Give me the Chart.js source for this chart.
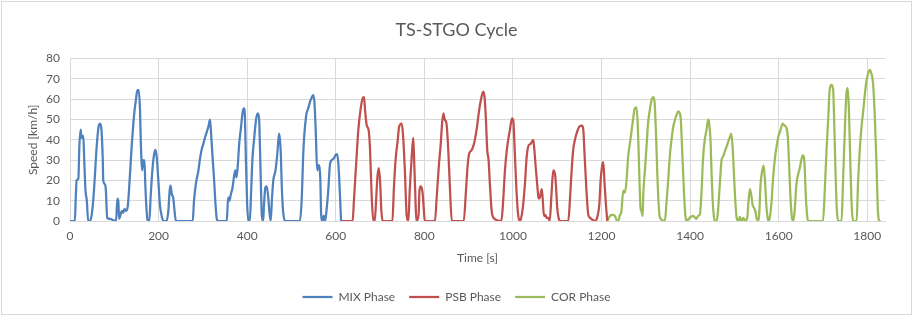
<!DOCTYPE html>
<html lang="en">

<head>
  <meta charset="UTF-8" />
  <title>TS-STGO Cycle</title>
  <script src="https://cdn.jsdelivr.net/npm/chart.js@4.4.0/dist/chart.umd.min.js"></script>
  <style>
    body {
      margin: 0;
      background: #ffffff;
    }

    .chart-container {
      position: relative;
      width: 913px;
      height: 316px;
    }
  </style>
</head>

<body>
  <div class="chart-container">
    <canvas id="cycle"></canvas>
  </div>
  <script>
    // speed trace, time [s] / speed [km/h]
    const mixTime = [
      0, 11, 13, 15, 19, 21, 24, 26, 30, 32, 35, 38, 41, 45,
      49, 53, 56, 60, 65, 68, 71, 74, 75, 79, 81, 84, 90,
      104, 107, 109, 111, 114, 117, 120, 123, 126, 130,
      135, 139, 143, 146, 149, 152, 155, 158, 160, 163, 165, 166, 168, 170, 173, 175, 179,
      182, 186, 190, 193, 196, 199, 203, 207, 211, 218,
      222, 225, 227, 230, 233, 236, 239, 277,
      280, 284, 290, 293, 297, 301, 306, 309, 313, 316, 318, 320, 322, 325, 328, 331, 334,
      354, 357, 360, 363, 367, 370, 373, 376, 379, 382, 386, 390, 393, 395, 397, 400, 403, 406,
      409, 412, 416, 420, 424, 427, 429, 431, 433, 436,
      438, 441, 444, 447, 450, 453,
      456, 459, 464, 468, 472, 474, 476, 478, 481, 486, 519,
      523, 527, 533, 538, 542, 546, 549, 552, 555, 558, 561, 565, 567, 570,
      573, 576, 579, 583, 587, 591, 596, 600, 603, 606, 609, 612
    ];
    const mixSpeed = [
      0, 0, 11.6, 20, 21, 36, 45, 41, 42, 31, 15, 10, 0, 0,
      3, 11.6, 21.5, 36, 47, 48, 45, 30, 20, 18, 15, 1.6, 1,
      0, 11, 10, 1, 3, 5, 4, 6, 5, 6.6,
      21.5, 36, 48, 55, 60, 64.5, 64.5, 55, 38, 25, 30, 26.5, 30, 18, 5, 0, 0,
      11.6, 25, 33, 35, 31, 21.5, 8, 2.5, 0, 0,
      5, 15, 17.4, 13, 11.6, 5, 0, 0,
      10, 18, 25, 30, 35, 38, 42, 44, 47, 50, 45, 38, 31, 21.5, 10, 1.6, 0,
      0, 11.6, 10, 13, 16.5, 21.5, 25, 21.5, 28, 38, 46, 54, 55.5, 51, 31, 8, 0, 0,
      15, 31, 41, 50, 53, 50, 35, 18, 3, 0,
      8, 16.5, 17, 13, 5, 0,
      11, 20, 25, 33, 43, 40, 33, 18, 5, 0, 0,
      10, 35, 51.6, 55.6, 58.8, 61, 62, 58, 43, 25, 27.5, 21.5, 3.3, 0,
      2.5, 0, 5, 15, 28, 30, 31, 32.6, 33, 28, 15, 0
    ];

    const psbTime = [
      612, 638, 641, 646, 651, 656, 661, 664, 666, 670, 674, 677, 679, 682, 685, 688,
      691, 694, 697, 700, 703, 706, 728,
      731, 735, 740, 743, 749, 752, 756, 760,
      764, 767, 771, 775, 777, 780, 782,
      787, 789, 792, 796, 799, 801, 824,
      828, 833, 837, 840, 843, 846, 850, 854, 858, 862, 889,
      894, 898, 901, 907, 912, 918, 924, 928, 933, 936, 939, 942, 945, 948, 952, 956, 974,
      978, 982, 987, 993, 998, 1001, 1004, 1008, 1012, 1016,
      1020, 1023, 1027, 1031, 1035, 1040, 1046, 1048, 1052, 1056, 1058, 1061, 1065, 1067, 1070, 1073, 1076, 1080, 1083,
      1087, 1091, 1095, 1097, 1100, 1103, 1106, 1125,
      1129, 1132, 1136, 1140, 1145, 1151, 1156, 1159, 1162, 1166, 1170, 1174, 1186, 1190,
      1195, 1198, 1202, 1204, 1207, 1210, 1213
    ];
    const psbSpeed = [
      0, 0, 10, 28, 45, 55, 60.6, 61, 55, 47, 45, 37, 25, 8, 0, 0,
      10, 21.5, 26, 20, 5, 0, 0,
      15, 30, 40, 46.4, 48, 42, 25, 3,
      0, 15, 30, 41, 30, 10, 0,
      3, 15, 17, 14, 5, 0, 0,
      12, 28, 38, 48, 53, 50, 48, 35, 15, 0, 0,
      15, 28, 33, 35, 38, 45, 55, 60, 63.7, 61, 50, 35, 30, 18, 5, 1.6, 0,
      10, 25, 36.4, 44.7, 50.5, 49, 35, 15, 2.5, 0,
      3, 8, 18, 31.5, 37, 38, 40, 36, 25, 15, 11, 11.6, 15.7, 11.6, 2.5, 3, 1.6, 1.6, 0,
      13, 25, 23, 18, 6.6, 1.6, 0, 0,
      11.6, 23, 35, 40, 44, 46.7, 47, 44.7, 31.5, 15, 3.3, 1.6, 0, 1.6,
      8, 20, 28, 29, 18, 8, 0
    ];

    const corTime = [
      1213, 1219, 1225, 1230, 1234, 1238, 1241, 1245, 1249, 1253, 1257, 1260, 1264, 1268, 1272, 1275, 1279, 1282, 1285, 1288, 1290, 1293,
      1294, 1298, 1302, 1305, 1309, 1313, 1317, 1320, 1323, 1326, 1329, 1332, 1343,
      1347, 1351, 1354, 1358, 1362, 1366, 1369, 1373, 1377, 1379, 1382, 1386, 1389, 1392, 1399, 1407, 1414, 1418, 1422,
      1426, 1429, 1433, 1437, 1441, 1443, 1446, 1448, 1451, 1454, 1456, 1460,
      1463, 1467, 1471, 1475, 1478, 1482, 1486, 1490, 1493, 1496, 1499, 1502, 1505,
      1509, 1512, 1516, 1520, 1524, 1529, 1532, 1535, 1538, 1541, 1544, 1547, 1550, 1553,
      1556, 1559, 1563, 1566, 1569, 1572, 1575, 1578,
      1581, 1584, 1587, 1591, 1595, 1599, 1604, 1609, 1613, 1618, 1621, 1624, 1627, 1630, 1633,
      1636, 1640, 1644, 1648, 1651, 1654, 1657, 1659, 1661, 1664, 1666, 1700,
      1704, 1708, 1712, 1715, 1719, 1723, 1725, 1728, 1731, 1734, 1742,
      1745, 1749, 1753, 1756, 1759, 1762, 1765, 1768, 1776,
      1779, 1783, 1787, 1791, 1794, 1798, 1802, 1806, 1809, 1813, 1817, 1821, 1824, 1828, 1830
    ];
    const corSpeed = [
      0, 2.5, 3, 2.5, 0.5, 0, 2.5, 5, 15, 14, 21.5, 31.5, 38, 44.7, 51.3, 55.5, 56, 46.4, 25, 6.6, 5, 2.5,
      11.6, 25, 38, 48, 54.6, 59.6, 61, 58, 43, 23, 8, 1.6, 0,
      10, 21.5, 31.5, 40, 46.4, 50, 52, 54, 53, 50, 35, 15, 3.3, 0, 1.6, 2.5, 1, 2.5, 3.3,
      15, 30, 40, 44.7, 50, 48, 40, 26.5, 10, 1.6, 0, 0,
      5, 18, 30, 32, 34, 36.4, 39, 41.4, 43, 36.4, 23, 10, 1.6,
      0, 2, 0, 1.6, 0, 1.6, 10, 15.7, 13, 8, 6.6, 5, 1.6, 0,
      3.3, 18, 25, 27.3, 20, 8, 1.6, 0,
      3.3, 10, 20, 30, 36.4, 41.4, 44.7, 48, 47, 45.5, 40, 25, 10, 1.6, 0,
      5, 18, 23, 26.5, 30, 32.3, 31.5, 25, 13, 3.3, 0, 0,
      15, 35, 51.3, 64.6, 67, 64.6, 51.3, 26.5, 6.6, 0, 0,
      18, 43, 63, 65.4, 51.3, 26.5, 6.6, 0, 0,
      18, 35, 46.4, 54.6, 61.3, 68.7, 72.8, 74.5, 72.8, 68, 51.3, 26.5, 5, 0, 0
    ];

    const xTicks = [0, 200, 400, 600, 800, 1000, 1200, 1400, 1600, 1800];
    const seriesNames = ["MIX Phase", "PSB Phase", "COR Phase"];
    const seriesColors = ["#4F81BD", "#C0504D", "#9BBB59"];

    const toPoints = (t, v) => t.map((x, i) => ({ x: x, y: v[i] }));
    const series = [
      toPoints(mixTime, mixSpeed),
      toPoints(psbTime, psbSpeed),
      toPoints(corTime, corSpeed)
    ];

    const textColor = "#595959";
    const gridColor = "#d9d9d9";
    Chart.defaults.font.family = "Lato, 'Liberation Sans', sans-serif";
    Chart.defaults.color = textColor;

    // thin frame round the whole chart, like the office chart border
    const frame = {
      id: "frame",
      afterDraw(chart) {
        const ctx = chart.ctx;
        ctx.save();
        ctx.strokeStyle = gridColor;
        ctx.lineWidth = 1;
        ctx.strokeRect(1.5, 1.5, chart.width - 3, chart.height - 3);
        ctx.restore();
      }
    };

    new Chart(document.getElementById("cycle"), {
      type: "line",
      data: {
        datasets: series.map((pts, i) => ({
          label: seriesNames[i],
          data: pts,
          borderColor: seriesColors[i],
          backgroundColor: seriesColors[i],
          borderWidth: 2.25,
          pointRadius: 0,
          cubicInterpolationMode: "monotone",
          fill: false
        }))
      },
      options: {
        responsive: true,
        maintainAspectRatio: false,
        animation: false,
        layout: {
          padding: { top: 0, left: 0, right: 0, bottom: 3 }
        },
        plugins: {
          title: {
            display: true,
            text: "TS-STGO Cycle",
            color: textColor,
            font: { size: 18, weight: "normal" },
            padding: { top: 19, bottom: 18 }
          },
          legend: {
            position: "bottom",
            labels: {
              usePointStyle: true,
              pointStyle: "line",
              pointStyleWidth: 30,
              padding: 14,
              color: textColor,
              font: { size: 12 }
            }
          },
          tooltip: { enabled: false }
        },
        scales: {
          x: {
            type: "linear",
            min: 0,
            max: 1840,
            afterBuildTicks(scale) {
              scale.ticks = xTicks.map(v => ({ value: v }));
            },
            ticks: {
              color: textColor,
              font: { size: 12 },
              padding: 8,
              maxRotation: 0,
              autoSkip: false,
              callback: v => String(v)
            },
            grid: { color: gridColor, drawTicks: false },
            border: { color: gridColor },
            title: {
              display: true,
              text: "Time [s]",
              color: textColor,
              font: { size: 12 },
              padding: { top: 4, bottom: 12 }
            },
            afterFit(scale) {
              scale.height = 56;
            }
          },
          y: {
            min: 0,
            max: 80,
            ticks: {
              stepSize: 10,
              color: textColor,
              font: { size: 12 },
              padding: 10
            },
            grid: { color: gridColor, drawTicks: false },
            border: { display: false },
            title: {
              display: true,
              text: "Speed [km/h]",
              color: textColor,
              font: { size: 12 },
              padding: { top: 26, bottom: 0 }
            },
            afterFit(scale) {
              scale.width = 70;
            }
          },
          // empty strip on the right so the plot stops where the original does
          rightGap: {
            position: "right",
            display: true,
            grid: { display: false },
            ticks: { display: false },
            border: { display: false },
            afterFit(scale) {
              scale.width = 28;
            }
          }
        }
      },
      plugins: [frame]
    });
  </script>
</body>

</html>
